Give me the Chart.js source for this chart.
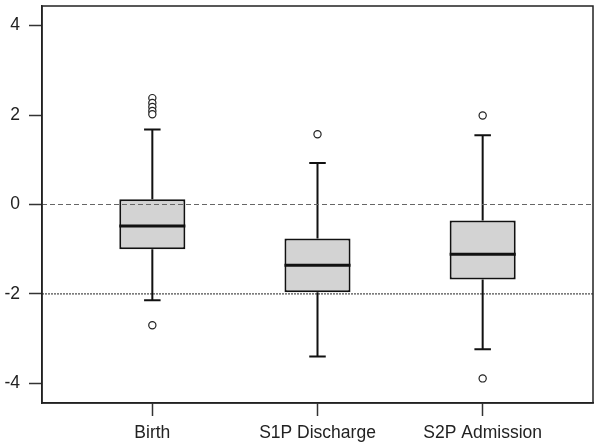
<!DOCTYPE html>
<html lang="en">

<head>
  <meta charset="UTF-8">
  <title>Boxplot</title>
  <style>
    body {
      margin: 0;
      background: #fff;
    }
  </style>
</head>

<body>
  <canvas id="chartBox" width="600" height="448"></canvas>

  <script src="https://cdn.jsdelivr.net/npm/chart.js"></script>
  <script>
    // Dados
    const categorias = ['Birth', 'S1P Discharge', 'S2P Admission'];
    const posicoes = [1, 2, 3];
    const bigodeInferior = [-2.14, -3.40, -3.24];
    const q1 = [-1.00, -1.96, -1.68];
    const mediana = [-0.48, -1.36, -1.11];
    const q3 = [0.12, -0.76, -0.36];
    const bigodeSuperior = [1.68, 0.93, 1.55];
    const outliers = [
      [2.38, 2.27, 2.18, 2.09, 2.02, -2.70],
      [1.57],
      [1.99, -3.89]
    ];
    const ticksY = [-4, -2, 0, 2, 4];
    const linhasReferencia = [0, -2];

    const corTexto = '#222';
    const fonte = { family: "'Liberation Sans', Arial, sans-serif", size: 17.5 };

    var dadosCaixa = posicoes.map((p, i) => ({ x: p, y: [q1[i], q3[i]] }));
    var dadosOutliers = [];
    for (var i = 0; i < outliers.length; i++) {
      for (var j = 0; j < outliers[i].length; j++) {
        dadosOutliers.push({ x: posicoes[i], y: outliers[i][j] });
      }
    }

    // bigodes, mediana, moldura e linhas tracejadas
    const pluginBoxplot = {
      id: 'boxplotExtras',
      afterDatasetsDraw(chart) {
        var ctx = chart.ctx;
        var x = chart.scales.x;
        var y = chart.scales.y;
        var area = chart.chartArea;
        ctx.save();
        ctx.strokeStyle = '#111';
        for (var i = 0; i < posicoes.length; i++) {
          var px = x.getPixelForValue(posicoes[i]);
          var capL = x.getPixelForValue(posicoes[i] - 0.05);
          var capR = x.getPixelForValue(posicoes[i] + 0.05);
          var boxL = x.getPixelForValue(posicoes[i] - 0.2);
          var boxR = x.getPixelForValue(posicoes[i] + 0.2);
          ctx.lineWidth = 2;
          ctx.beginPath();
          ctx.moveTo(px, y.getPixelForValue(q3[i]));
          ctx.lineTo(px, y.getPixelForValue(bigodeSuperior[i]));
          ctx.moveTo(px, y.getPixelForValue(q1[i]));
          ctx.lineTo(px, y.getPixelForValue(bigodeInferior[i]));
          ctx.moveTo(capL, y.getPixelForValue(bigodeSuperior[i]));
          ctx.lineTo(capR, y.getPixelForValue(bigodeSuperior[i]));
          ctx.moveTo(capL, y.getPixelForValue(bigodeInferior[i]));
          ctx.lineTo(capR, y.getPixelForValue(bigodeInferior[i]));
          ctx.stroke();
          ctx.lineWidth = 3;
          ctx.beginPath();
          ctx.moveTo(boxL, y.getPixelForValue(mediana[i]));
          ctx.lineTo(boxR, y.getPixelForValue(mediana[i]));
          ctx.stroke();
        }
        // linhas de referência
        ctx.lineWidth = 1.2;
        ctx.strokeStyle = '#666';
        ctx.setLineDash([5, 3]);
        ctx.beginPath();
        ctx.moveTo(area.left, y.getPixelForValue(linhasReferencia[0]));
        ctx.lineTo(area.right, y.getPixelForValue(linhasReferencia[0]));
        ctx.stroke();
        ctx.lineWidth = 1;
        ctx.strokeStyle = '#222';
        ctx.setLineDash([2, 1]);
        ctx.beginPath();
        ctx.moveTo(area.left, y.getPixelForValue(linhasReferencia[1]));
        ctx.lineTo(area.right, y.getPixelForValue(linhasReferencia[1]));
        ctx.stroke();
        // moldura
        ctx.setLineDash([]);
        ctx.lineWidth = 1.5;
        ctx.strokeStyle = '#222';
        ctx.strokeRect(area.left, area.top, area.right - area.left, area.bottom - area.top);
        ctx.restore();
      }
    };

    var grafico = new Chart(document.getElementById('chartBox'), {
      type: 'bar',
      data: {
        datasets: [{
          type: 'bar',
          data: dadosCaixa,
          backgroundColor: '#d3d3d3',
          borderColor: '#111',
          borderWidth: 2,
          borderSkipped: false,
          barPercentage: 0.4,
          categoryPercentage: 1
        }, {
          type: 'scatter',
          data: dadosOutliers,
          pointStyle: 'circle',
          pointRadius: 3.6,
          pointBorderWidth: 1.2,
          pointBorderColor: '#222',
          pointBackgroundColor: '#fff'
        }]
      },
      options: {
        responsive: false,
        animation: false,
        layout: { padding: { top: 6, right: 7, left: 0, bottom: 0 } },
        plugins: {
          legend: { display: false },
          tooltip: { enabled: false }
        },
        scales: {
          x: {
            type: 'linear',
            min: 0.332,
            max: 3.668,
            offset: false,
            afterBuildTicks: (axis) => { axis.ticks = posicoes.map(v => ({ value: v })); },
            afterFit: (axis) => {
              axis.height = 45;
              axis.paddingLeft = 0;
              axis.paddingRight = 0;
            },
            ticks: {
              callback: (v) => categorias[posicoes.indexOf(v)],
              color: corTexto,
              font: fonte,
              padding: 7,
              maxRotation: 0,
              autoSkip: false
            },
            grid: { offset: false, drawOnChartArea: false, tickLength: 13, tickColor: '#333', tickWidth: 1.5 },
            border: { color: '#222', width: 1.5 }
          },
          y: {
            min: -4.44,
            max: 4.44,
            afterBuildTicks: (axis) => { axis.ticks = ticksY.map(v => ({ value: v })); },
            afterFit: (axis) => {
              axis.width = 42;
              axis.paddingTop = 0;
              axis.paddingBottom = 0;
            },
            ticks: { color: corTexto, font: fonte, padding: 9 },
            grid: { drawOnChartArea: false, tickLength: 13, tickColor: '#333', tickWidth: 1.5 },
            border: { color: '#222', width: 1.5 }
          }
        }
      },
      plugins: [pluginBoxplot]
    });
  </script>
</body>

</html>
